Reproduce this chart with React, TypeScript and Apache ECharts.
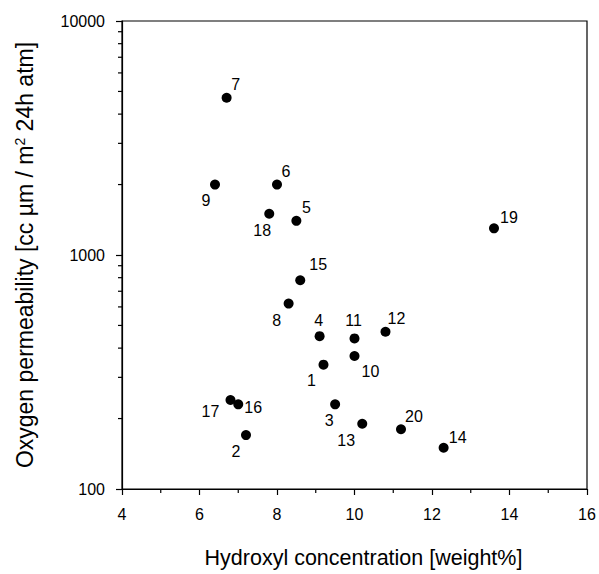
import React, { useEffect, useRef } from "react";
import * as echarts from "echarts";

// Data
const sampleIds = ["1","2","3","4","5","6","7","8","9","10","11","12","13","14","15","16","17","18","19","20"];
const hydroxyl = [9.2, 7.2, 9.5, 9.1, 8.5, 8.0, 6.7, 8.3, 6.4, 10.0, 10.0, 10.8, 10.2, 12.3, 8.6, 7.0, 6.8, 7.8, 13.6, 11.2];
const permeability = [340, 170, 230, 450, 1400, 2000, 4700, 620, 2000, 370, 440, 470, 190, 150, 780, 230, 240, 1500, 1300, 180];
const yMinorTickValues = [200, 300, 400, 500, 600, 700, 800, 900, 2000, 3000, 4000, 5000, 6000, 7000, 8000, 9000];
const xMinorTickValues = [5, 7, 9, 11, 13, 15];

// label placement (dx, dy from point centre), by sample id
const labelOffsets: Record<string, [number, number]> = {
  "1": [-12, 16], "2": [-10, 16], "3": [-6, 16], "4": [-1, -16], "5": [10, -13],
  "6": [9, -13], "7": [9, -13], "8": [-12, 17], "9": [-9, 16], "10": [16, 15],
  "11": [-1, -18], "12": [11, -13], "13": [-16, 17], "14": [14, -10], "15": [18, -16],
  "16": [15, 3], "17": [-20, 11], "18": [-7, 17], "19": [15, -11], "20": [13, -13],
};

const FONT = "'Liberation Sans', Arial, Helvetica, sans-serif";

export default function App() {
  const ref = useRef<HTMLDivElement>(null);
  useEffect(() => {
    if (!ref.current) return;
    const chart = echarts.init(ref.current, null, { renderer: "svg" });
    const points = sampleIds.map((id, i) => ({
      name: id,
      value: [hydroxyl[i], permeability[i]],
      label: { offset: labelOffsets[id] },
    }));
    const minorTicks = [
      ...yMinorTickValues.map((v) => [4, v, 0]),
      ...xMinorTickValues.map((v) => [v, 100, 1]),
    ];
    chart.setOption({
      animation: false,
      textStyle: { fontFamily: FONT, color: "#000" },
      grid: {
        left: 122, right: 12, top: 21, bottom: 84,
        show: true, borderColor: "#000", borderWidth: 1.2, backgroundColor: "transparent",
      },
      xAxis: {
        type: "value", min: 4, max: 16, interval: 2,
        name: "Hydroxyl concentration [weight%]",
        nameLocation: "middle", nameGap: 58,
        nameTextStyle: { fontSize: 21.5, color: "#000", fontFamily: FONT, padding: [0, 0, 0, 18] },
        axisLine: { show: true, lineStyle: { color: "#000", width: 1.2 } },
        axisTick: { show: true, inside: false, length: 6, lineStyle: { color: "#000", width: 1.2 } },
        splitLine: { show: false },
        axisLabel: { fontSize: 16, color: "#000", margin: 17, fontFamily: FONT },
      },
      yAxis: {
        type: "log", logBase: 10, min: 100, max: 10000,
        name: "Oxygen permeability [cc µm / m{sup|2} 24h atm]",
        nameLocation: "middle", nameGap: 86,
        nameTextStyle: {
          fontSize: 23, color: "#000", fontFamily: FONT,
          rich: { sup: { fontSize: 14, verticalAlign: "top", color: "#000", fontFamily: FONT } },
        },
        axisLine: { show: true, lineStyle: { color: "#000", width: 1.2 } },
        axisTick: { show: true, inside: false, length: 6, lineStyle: { color: "#000", width: 1.2 } },
        splitLine: { show: false },
        axisLabel: {
          fontSize: 16, color: "#000", margin: 17, fontFamily: FONT,
          formatter: (v: number) => String(Math.round(v)),
        },
      },
      series: [
        {
          type: "custom",
          silent: true,
          clip: false,
          data: minorTicks,
          encode: { x: 0, y: 1 },
          renderItem: (_params: any, api: any) => {
            const p = api.coord([api.value(0), api.value(1)]);
            const isX = api.value(2) === 1;
            return {
              type: "line",
              shape: isX
                ? { x1: p[0], y1: p[1], x2: p[0], y2: p[1] + 4 }
                : { x1: p[0] - 4, y1: p[1], x2: p[0], y2: p[1] },
              style: { stroke: "#000", lineWidth: 1.2 },
            };
          },
        },
        {
          type: "scatter",
          symbol: "circle",
          symbolSize: 10,
          itemStyle: { color: "#000", opacity: 1 },
          data: points,
          label: {
            show: true,
            position: "inside",
            formatter: "{b}",
            fontSize: 16,
            color: "#000",
            fontFamily: FONT,
          },
        },
      ],
    });
    return () => chart.dispose();
  }, []);
  return (
    <div
      ref={ref}
      style={{ position: "fixed", left: 0, top: 0, width: 599, height: 574, background: "#fff" }}
    />
  );
}
